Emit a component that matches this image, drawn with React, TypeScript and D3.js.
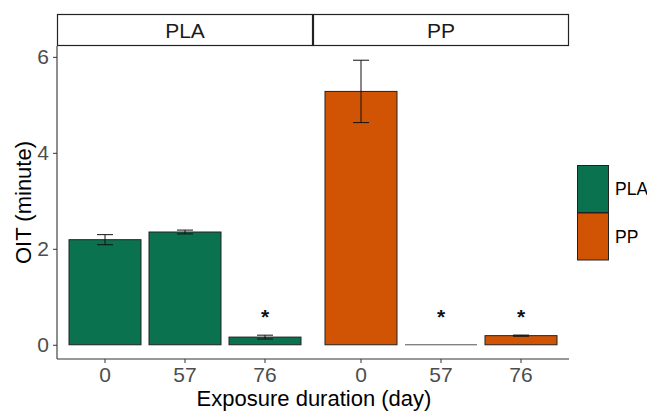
import React, { useRef, useEffect } from "react";
import * as d3 from "d3";

// Data
const materials = ["PLA", "PP"];
const days = ["0", "57", "76"];
const plaMeans = [2.19, 2.35, 0.16];
const plaErrors = [0.105, 0.04, 0.04];
const ppMeans = [5.28, 0, 0.19];
const ppErrors = [0.65, 0, 0.012];
const plaStars = [false, false, true];
const ppStars = [false, true, true];
const yTicks = [0, 2, 4, 6];
const colors = ["#0b7250", "#d15405"];

const App = () => {
  const svgRef = useRef<SVGSVGElement>(null);

  useEffect(() => {
    const svg = d3.select(svgRef.current);
    svg.selectAll("*").remove();

    const width = 647;
    const height = 411;
    const panelLeft = 57;
    const panelWidth = 256;
    const panelTop = 46;
    const panelBottom = 359;
    const stripTop = 14;
    const font = "'Liberation Sans', Arial, sans-serif";

    svg.attr("width", width).attr("height", height);

    const y = d3.scaleLinear().domain([-0.2965, 6.2265]).range([panelBottom, panelTop]);

    const series = [
      { name: materials[0], means: plaMeans, errs: plaErrors, stars: plaStars },
      { name: materials[1], means: ppMeans, errs: ppErrors, stars: ppStars },
    ];

    series.forEach((s, i) => {
      const x0 = panelLeft + i * panelWidth;
      // ggplot-like discrete scale: 3 categories, 0.6 expansion each side
      const x = d3.scalePoint().domain(days).range([x0 + 0.6 * 80, x0 + 2.6 * 80]);
      const cx = (d: string) => x(d) as number;
      const bw = 72;

      const g = svg.append("g");
      const rows = days.map((d, j) => ({ day: d, mean: s.means[j], err: s.errs[j], star: s.stars[j] }));

      g.selectAll("rect.bar")
        .data(rows)
        .join("rect")
        .attr("class", "bar")
        .attr("x", (d) => cx(d.day) - bw / 2)
        .attr("y", (d) => y(d.mean))
        .attr("width", bw)
        .attr("height", (d) => y(0) - y(d.mean))
        .attr("fill", colors[i])
        .attr("stroke", "#222")
        .attr("stroke-width", 1);

      // zero-height bars still show an outline
      g.selectAll("line.zero")
        .data(rows.filter((d) => d.mean === 0))
        .join("line")
        .attr("x1", (d) => cx(d.day) - bw / 2)
        .attr("x2", (d) => cx(d.day) + bw / 2)
        .attr("y1", y(0))
        .attr("y2", y(0))
        .attr("stroke", "#555")
        .attr("stroke-width", 1);

      const eb = g.selectAll("g.err").data(rows.filter((d) => d.err > 0)).join("g").attr("stroke", "#111").attr("stroke-width", 1);
      eb.append("line")
        .attr("x1", (d) => cx(d.day))
        .attr("x2", (d) => cx(d.day))
        .attr("y1", (d) => y(d.mean - d.err))
        .attr("y2", (d) => y(d.mean + d.err));
      eb.append("line")
        .attr("x1", (d) => cx(d.day) - 8)
        .attr("x2", (d) => cx(d.day) + 8)
        .attr("y1", (d) => y(d.mean + d.err))
        .attr("y2", (d) => y(d.mean + d.err));
      eb.append("line")
        .attr("x1", (d) => cx(d.day) - 8)
        .attr("x2", (d) => cx(d.day) + 8)
        .attr("y1", (d) => y(d.mean - d.err))
        .attr("y2", (d) => y(d.mean - d.err));

      g.selectAll("text.star")
        .data(rows.filter((d) => d.star))
        .join("text")
        .attr("x", (d) => cx(d.day))
        .attr("y", y(0.63) + 9)
        .attr("text-anchor", "middle")
        .attr("font-family", font)
        .attr("font-size", 21)
        .attr("font-weight", "bold")
        .attr("fill", "#111")
        .text("*");

      // strip
      svg.append("rect")
        .attr("x", x0 + 0.5)
        .attr("y", stripTop + 0.5)
        .attr("width", panelWidth - 1)
        .attr("height", panelTop - stripTop - 1)
        .attr("fill", "white")
        .attr("stroke", "#222")
        .attr("stroke-width", 1.2);
      svg.append("text")
        .attr("x", x0 + panelWidth / 2)
        .attr("y", (stripTop + panelTop) / 2)
        .attr("dy", "0.36em")
        .attr("text-anchor", "middle")
        .attr("font-family", font)
        .attr("font-size", 21)
        .attr("fill", "#1a1a1a")
        .text(s.name);

      // x ticks and labels
      const xa = svg.append("g");
      days.forEach((d) => {
        xa.append("line")
          .attr("x1", cx(d)).attr("x2", cx(d))
          .attr("y1", panelBottom).attr("y2", panelBottom + 4)
          .attr("stroke", "#333");
        xa.append("text")
          .attr("x", cx(d))
          .attr("y", 382)
          .attr("text-anchor", "middle")
          .attr("font-family", font)
          .attr("font-size", 21)
          .attr("fill", "#4d4d4d")
          .text(d);
      });
    });

    // x axis line
    svg.append("line")
      .attr("x1", panelLeft).attr("x2", panelLeft + 2 * panelWidth)
      .attr("y1", panelBottom).attr("y2", panelBottom)
      .attr("stroke", "#333").attr("stroke-width", 1.1);

    // y axis
    const ya = svg.append("g")
      .attr("transform", `translate(${panelLeft},0)`)
      .call(d3.axisLeft(y).tickValues(yTicks).tickSize(4).tickFormat(d3.format("d")));
    ya.select(".domain").attr("d", `M0,${panelTop}V${panelBottom}`).attr("stroke", "#333").attr("stroke-width", 1.1);
    ya.selectAll(".tick line").attr("stroke", "#333");
    ya.selectAll(".tick text")
      .attr("font-family", font)
      .attr("font-size", 21)
      .attr("fill", "#4d4d4d")
      .attr("x", -8);

    // axis titles
    svg.append("text")
      .attr("x", panelLeft + panelWidth + 1)
      .attr("y", 406)
      .attr("text-anchor", "middle")
      .attr("font-family", font)
      .attr("font-size", 22)
      .attr("fill", "#000")
      .text("Exposure duration (day)");
    svg.append("text")
      .attr("transform", `translate(31,${(panelTop + panelBottom) / 2}) rotate(-90)`)
      .attr("text-anchor", "middle")
      .attr("font-family", font)
      .attr("font-size", 22)
      .attr("fill", "#000")
      .text("OIT (minute)");

    // legend
    const legend = svg.append("g").attr("transform", "translate(577,165)");
    materials.forEach((m, i) => {
      legend.append("rect")
        .attr("x", 0.5)
        .attr("y", i * 47.5 + 0.5)
        .attr("width", 31)
        .attr("height", 47)
        .attr("fill", colors[i])
        .attr("stroke", "#222")
        .attr("stroke-width", 1);
      legend.append("text")
        .attr("x", 38)
        .attr("y", i * 47.5 + 24)
        .attr("dy", "0.36em")
        .attr("font-family", font)
        .attr("font-size", 17.5)
        .attr("fill", "#000")
        .text(m);
    });
  }, []);

  return <svg ref={svgRef} style={{ position: "absolute", left: 0, top: 0, display: "block" }}></svg>;
};

export default App;
